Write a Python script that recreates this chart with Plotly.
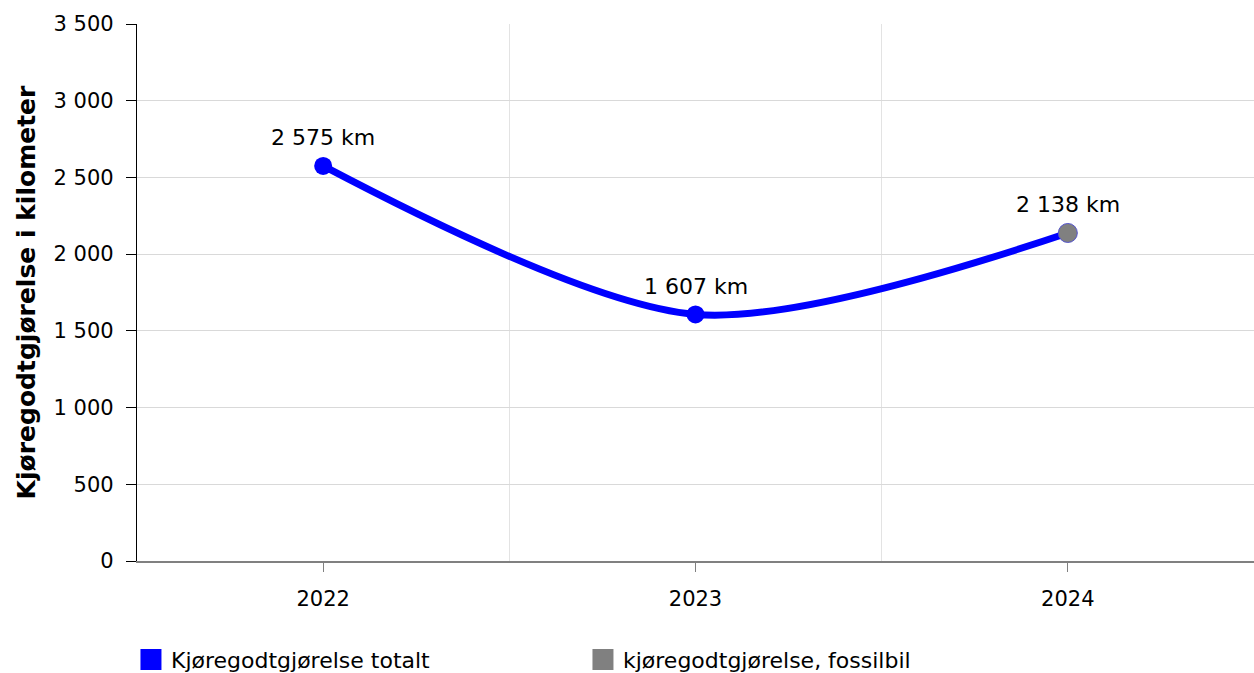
import plotly.graph_objects as go

years = ["2022", "2023", "2024"]
totalt = [2575, 1607, 2138]
fossil_years = ["2024"]
fossil = [2138]
y_ticks = [0, 500, 1000, 1500, 2000, 2500, 3000, 3500]

FONT = "DejaVu Sans"
BLUE = "#0000ff"
GREY = "#808080"
FS = 21

xi = list(range(len(years)))
fx = [years.index(y) for y in fossil_years]

def fmt(v):
    return f"{v:,}".replace(",", " ")

fig = go.Figure()
fig.add_trace(go.Scatter(
    x=xi, y=totalt, mode="lines+markers",
    line=dict(color=BLUE, width=7, shape="spline", smoothing=0.85),
    marker=dict(color=BLUE, size=18),
    showlegend=False, hoverinfo="skip",
))
fig.add_trace(go.Scatter(
    x=fx, y=fossil, mode="markers",
    marker=dict(color=GREY, size=19, line=dict(color="#5555cc", width=1)),
    showlegend=False, hoverinfo="skip",
))
# legend swatches
fig.add_trace(go.Scatter(
    x=[None], y=[None], mode="markers", name="Kjøregodtgjørelse totalt",
    marker=dict(color=BLUE, symbol="square", size=16, line=dict(color=BLUE, width=5)),
))
fig.add_trace(go.Scatter(
    x=[None], y=[None], mode="markers", name="kjøregodtgjørelse, fossilbil",
    marker=dict(color=GREY, symbol="square", size=16, line=dict(color=GREY, width=5)),
))

for i, v in zip(xi, totalt):
    fig.add_annotation(x=i, y=v, text=fmt(v) + " km", showarrow=False,
                       yshift=28, font=dict(family=FONT, size=22, color="#000"))

fig.update_layout(
    width=1254, height=673,
    margin=dict(l=137, r=0, t=24, b=112, autoexpand=False),
    paper_bgcolor="white", plot_bgcolor="white",
    font=dict(family=FONT, size=FS, color="#000"),
    legend=dict(orientation="h", x=-0.0054, xanchor="left", y=-0.184, yanchor="middle",
                entrywidth=407, entrywidthmode="pixels",
                font=dict(family=FONT, size=22, color="#000"),
                itemsizing="trace"),
)
fig.update_xaxes(
    range=[-0.5, 2.5], tickmode="array", tickvals=xi, ticktext=years,
    showgrid=False, showline=True, linecolor="#808080", linewidth=1.5,
    ticks="outside", ticklen=9, tickcolor="#808080", tickfont=dict(size=FS),
    ticklabelstandoff=9,
    minor=dict(tick0=0.5, dtick=1, showgrid=True, gridcolor="#e3e3e3", ticklen=0),
    zeroline=False,
)
fig.update_yaxes(
    range=[0, 3500], tickmode="array", tickvals=y_ticks,
    ticktext=[fmt(v) for v in y_ticks],
    showgrid=True, gridcolor="#d9d9d9", gridwidth=1,
    showline=True, linecolor="#000", linewidth=1.2,
    ticks="outside", ticklen=10, tickcolor="#000", tickfont=dict(size=FS),
    ticklabelstandoff=8,
    zeroline=False,
    title=dict(text="<b>Kjøregodtgjørelse i kilometer</b>", font=dict(size=25), standoff=10),
)

fig.write_html("out.html", config={"displayModeBar": False},
               post_script="document.body.style.margin='0';document.body.style.padding='0';")
